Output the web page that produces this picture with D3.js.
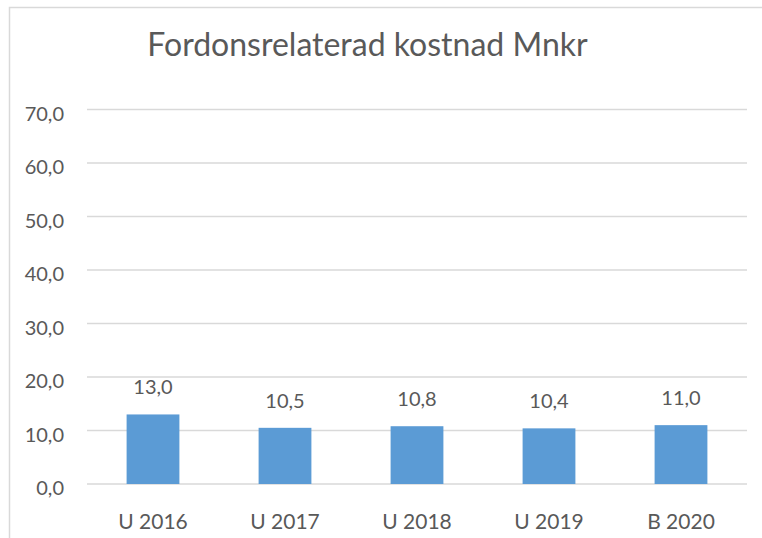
<!DOCTYPE html>
<html>
<head>
<meta charset="utf-8">
<script src="https://cdn.jsdelivr.net/npm/d3@7"></script>
<style>
  html, body { margin: 0; padding: 0; background: #fff; }
  svg { display: block; }
  text { font-family: Lato, "Open Sans", sans-serif; fill: #595959; }
</style>
</head>
<body>
<svg id="chart" width="762" height="538"></svg>
<script>
const title = "Fordonsrelaterad kostnad Mnkr";
const categories = ["U 2016", "U 2017", "U 2018", "U 2019", "B 2020"];
const values = [13.0, 10.5, 10.8, 10.4, 11.0];
const yTicks = [0, 10, 20, 30, 40, 50, 60, 70];

const W = 762, H = 538;
const svg = d3.select("#chart");
const fmt = v => d3.format(".1f")(v).replace(".", ",");

// chart frame
svg.append("path")
  .attr("d", `M9.5,${H} V7.5 H${W}`)
  .attr("fill", "none").attr("stroke", "#D9D9D9").attr("stroke-width", 1.5);

const x = d3.scaleBand().domain(categories).range([87, 747]).paddingInner(0.6).paddingOuter(0.3);
const y = d3.scaleLinear().domain([0, 70]).range([484, 109.5]);

// gridlines
svg.append("g").selectAll("line").data(yTicks).join("line")
  .attr("x1", 87).attr("x2", 747)
  .attr("y1", d => y(d)).attr("y2", d => y(d))
  .attr("stroke", "#D9D9D9").attr("stroke-width", 1.5);

// y labels
svg.append("g").selectAll("text").data(yTicks).join("text")
  .attr("x", 64).attr("y", d => y(d) + 11)
  .attr("text-anchor", "end").attr("font-size", 20)
  .text(fmt);

// bars
svg.append("g").selectAll("rect").data(values).join("rect")
  .attr("x", (d, i) => x(categories[i]))
  .attr("width", x.bandwidth())
  .attr("y", d => y(d))
  .attr("height", d => y(0) - y(d))
  .attr("fill", "#5B9BD5");

// value labels
svg.append("g").selectAll("text").data(values).join("text")
  .attr("x", (d, i) => x(categories[i]) + x.bandwidth() / 2)
  .attr("y", d => y(d) - 20)
  .attr("text-anchor", "middle").attr("font-size", 20)
  .text(fmt);

// category labels
svg.append("g").selectAll("text").data(categories).join("text")
  .attr("x", d => x(d) + x.bandwidth() / 2)
  .attr("y", 529)
  .attr("text-anchor", "middle").attr("font-size", 21)
  .text(d => d);

// title
svg.append("text")
  .attr("x", 367.5).attr("y", 56)
  .attr("text-anchor", "middle").attr("font-size", 32)
  .text(title);
</script>
</body>
</html>
